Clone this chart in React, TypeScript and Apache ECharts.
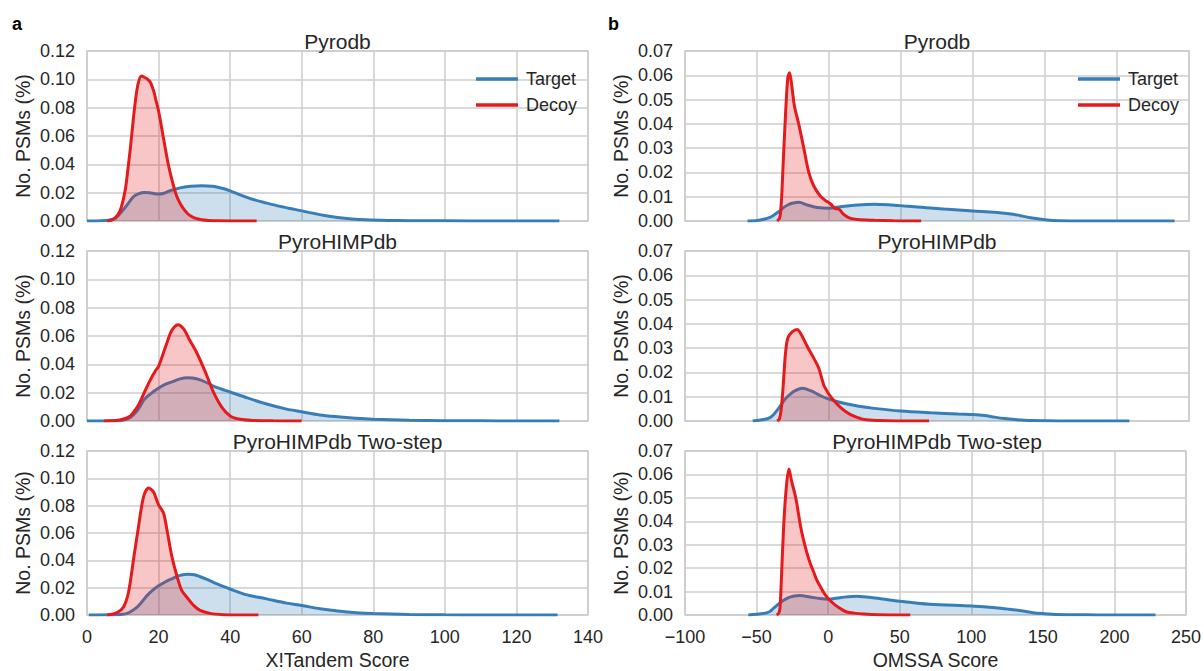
import React, { useEffect, useRef } from "react";
import * as echarts from "echarts";

// ---------- data ----------
const panelTitles = ["Pyrodb", "PyroHIMPdb", "PyroHIMPdb Two-step"];
const legendNames = ["Target", "Decoy"];
const xAxisNames = ["X!Tandem Score", "OMSSA Score"];
const yAxisName = "No. PSMs (%)";
const panelLetters = ["a", "b"];

const xtX = { min: 0, max: 140, step: 20 };
const omX = { min: -100, max: 250, step: 50 };
const xtY = { max: 0.12, step: 0.02 };
const omY = { max: 0.07, step: 0.01 };

// X!Tandem – Pyrodb
const xtPyrodbTarget = [[0,0],[4,0.0002],[6,0.0006],[8,0.002],[10,0.0075],[12,0.014],[13,0.0172],[14.5,0.0193],[16,0.0202],[17.5,0.0199],[19,0.0192],[20,0.019],[21.5,0.0196],[23,0.0212],[26,0.0234],[29,0.0245],[32,0.0249],[35,0.0245],[38,0.0229],[40,0.0213],[43,0.0182],[46,0.0155],[50,0.0128],[54,0.0103],[58,0.0082],[62,0.0061],[66,0.0041],[70,0.0025],[74,0.0014],[78,0.0008],[84,0.0004],[90,0.0002],[100,0.0001],[115,0],[132,0]];
const xtPyrodbDecoy = [[5.6,0],[7,0.0008],[8.5,0.004],[9.5,0.009],[10.7,0.022],[11.5,0.038],[12.1,0.051],[13.3,0.08],[14.2,0.096],[15.2,0.1024],[16,0.1015],[16.8,0.1003],[17.7,0.098],[18.6,0.092],[19.3,0.085],[20,0.0776],[21.4,0.058],[22.8,0.039],[24.2,0.0246],[25,0.018],[26,0.0125],[27,0.0085],[28,0.0055],[29,0.0035],[30.2,0.002],[32,0.0009],[34,0.0004],[37,0.0001],[40,0],[47.4,0]];
// X!Tandem – PyroHIMPdb
const xtHimpTarget = [[0,0],[6,0.0001],[9.3,0.0004],[11,0.0012],[12.1,0.0024],[13,0.0045],[14,0.0072],[15,0.011],[15.8,0.0145],[16.8,0.0172],[17.7,0.019],[19,0.0215],[20.5,0.024],[22.3,0.0263],[24.2,0.028],[26,0.0297],[27.9,0.0306],[29.5,0.0303],[31.6,0.029],[33.5,0.027],[35.3,0.0246],[37.5,0.0226],[40,0.0205],[44.7,0.0164],[50.2,0.012],[55.8,0.0084],[60,0.0065],[65,0.0043],[70,0.003],[75,0.002],[80,0.0013],[90,0.0005],[100,0.0002],[110,0.0001],[120,0],[132,0]];
const xtHimpDecoy = [[4.7,0],[8,0.0003],[10,0.0012],[12.1,0.0036],[13,0.0062],[14,0.0096],[15,0.0145],[15.8,0.019],[17.7,0.029],[19,0.035],[20,0.0385],[21.9,0.052],[23.7,0.064],[25.4,0.068],[27,0.065],[28.8,0.0566],[30.7,0.048],[33,0.035],[35.3,0.0205],[37.7,0.0096],[40,0.0036],[42.8,0.0012],[46.5,0.0004],[52,0.0001],[60,0]];
// X!Tandem – PyroHIMPdb Two-step
const xtTwoTarget = [[0.5,0],[7.4,0.0001],[10,0.0006],[11.2,0.0012],[12.5,0.003],[14,0.0058],[15.3,0.0095],[16.7,0.014],[18.3,0.018],[20,0.0214],[21.7,0.024],[23.3,0.026],[26,0.029],[28.4,0.0299],[30,0.0295],[31.6,0.028],[33.5,0.026],[35.3,0.0239],[37.5,0.0215],[40,0.019],[44.7,0.0147],[50.2,0.0118],[55.8,0.0087],[60,0.007],[65.1,0.0046],[70.7,0.0027],[75.3,0.0017],[80,0.0011],[90,0.0004],[100,0.0001],[110,0],[131.5,0]];
const xtTwoDecoy = [[5.6,0],[8.4,0.0017],[10.2,0.0058],[11.6,0.0166],[13,0.0407],[14.4,0.0648],[15.8,0.0865],[17.2,0.093],[18.6,0.09],[20,0.0805],[21.4,0.0745],[22.5,0.06],[23.7,0.043],[25.1,0.0287],[26.5,0.0178],[27.9,0.013],[29.8,0.007],[31.6,0.0034],[34.4,0.0012],[38.1,0.0002],[42,0],[47.9,0]];

// OMSSA – Pyrodb
const omPyrodbTarget = [[-56.6,0],[-50,0.0002],[-45.3,0.0007],[-41,0.0015],[-38.4,0.0024],[-35,0.0038],[-31.4,0.0056],[-28,0.0068],[-25.6,0.0073],[-20.9,0.0077],[-15.1,0.0066],[-8.1,0.0056],[0,0.0053],[8.1,0.0059],[19.8,0.0066],[31.4,0.0069],[43,0.0066],[52.3,0.0062],[66.3,0.0056],[80,0.0049],[100,0.0041],[115,0.0036],[125,0.003],[133,0.0022],[140,0.0013],[150,0.0005],[160,0.0001],[180,0],[240,0]];
const omPyrodbDecoy = [[-36,0],[-34.5,0.001],[-33.7,0.003],[-32.7,0.012],[-31.9,0.0227],[-30.2,0.0438],[-28.6,0.059],[-27.4,0.061],[-26,0.0564],[-24,0.0473],[-20.9,0.0396],[-17.4,0.0297],[-14,0.0199],[-10.5,0.0143],[-5.8,0.0101],[-2.3,0.0084],[1.2,0.007],[4,0.0052],[7,0.0048],[10,0.0028],[14,0.0013],[19.8,0.0006],[31.4,0.0003],[45,0.0001],[64,0]];
// OMSSA – PyroHIMPdb
const omHimpTarget = [[-53,0],[-45.3,0.0006],[-41,0.0014],[-38.4,0.0027],[-35,0.0052],[-31.4,0.0083],[-28,0.0105],[-24.4,0.0122],[-18.6,0.0135],[-12.8,0.0125],[-5.8,0.0104],[0,0.009],[8.1,0.0076],[19.8,0.0062],[31.4,0.0052],[50,0.0041],[71,0.0034],[89.5,0.0029],[100,0.0027],[108,0.0023],[115,0.0016],[122,0.001],[129,0.0006],[140,0.0002],[160,0],[208.6,0]];
const omHimpDecoy = [[-36,0],[-34.5,0.0008],[-33.7,0.0027],[-32.8,0.007],[-31.9,0.0139],[-30.2,0.028],[-28.6,0.0342],[-25.6,0.0367],[-22.1,0.0377],[-19.3,0.0356],[-15.1,0.0307],[-10.5,0.0258],[-7,0.0216],[-3.5,0.0146],[0,0.011],[3.5,0.0083],[8.1,0.0055],[12.8,0.0034],[17.4,0.002],[24.4,0.0006],[36,0.0002],[50,0],[69.5,0]];
// OMSSA – PyroHIMPdb Two-step
const omTwoTarget = [[-55.8,0],[-45.3,0.0006],[-41,0.0014],[-38.4,0.0027],[-35,0.0045],[-31.4,0.0062],[-28,0.0073],[-24.4,0.008],[-19.8,0.0083],[-12.8,0.0077],[-5.8,0.007],[0,0.0067],[8.1,0.0074],[14,0.0078],[19.8,0.008],[25,0.0078],[31.4,0.0074],[50,0.0059],[71,0.0046],[100,0.0038],[117,0.0031],[126,0.0025],[136,0.0017],[143,0.001],[150,0.0006],[160,0.0002],[176,0.0001],[190,0],[228.7,0]];
const omTwoDecoy = [[-36,0],[-34.5,0.0008],[-33.7,0.0027],[-32.9,0.012],[-32.1,0.0237],[-30.7,0.042],[-29,0.056],[-27.4,0.0623],[-25.5,0.057],[-23.3,0.0518],[-22,0.048],[-19,0.037],[-15.5,0.028],[-12.5,0.022],[-10.5,0.019],[-8,0.015],[-5.5,0.0122],[-3,0.0095],[0,0.007],[5,0.0042],[10,0.0022],[13,0.0013],[18,0.0008],[25,0.0004],[35,0.0001],[57.4,0]];

const xtCurves = [
  [xtPyrodbTarget, xtPyrodbDecoy],
  [xtHimpTarget, xtHimpDecoy],
  [xtTwoTarget, xtTwoDecoy],
];
const omCurves = [
  [omPyrodbTarget, omPyrodbDecoy],
  [omHimpTarget, omHimpDecoy],
  [omTwoTarget, omTwoDecoy],
];

// ---------- style ----------
const FONT = "'Liberation Sans', Arial, sans-serif";
const TEXT = "#262626";
const GRIDC = "#cccccc";
const COLORS = ["#377eb8", "#e41a1c"];
const ROW_TOPS = [51, 251, 451];
const ROW_H = 170;
const COLS = [
  { left: 87, width: 501 },
  { left: 685, width: 504 },
];

export default function App() {
  const ref = useRef<HTMLDivElement>(null);

  useEffect(() => {
    if (!ref.current) return;
    const chart = echarts.init(ref.current, undefined, { renderer: "svg" });

    const grid: any[] = [];
    const xAxis: any[] = [];
    const yAxis: any[] = [];
    const series: any[] = [];
    const title: any[] = [];

    for (let c = 0; c < 2; c++) {
      const xs = c === 0 ? xtX : omX;
      const ys = c === 0 ? xtY : omY;
      const curves = c === 0 ? xtCurves : omCurves;
      for (let r = 0; r < 3; r++) {
        const idx = c * 3 + r;
        const bottom = r === 2;
        grid.push({
          left: COLS[c].left,
          width: COLS[c].width,
          top: ROW_TOPS[r],
          height: ROW_H,
          show: true,
          borderColor: GRIDC,
          borderWidth: 1.5,
          backgroundColor: "#ffffff",
          containLabel: false,
        });
        xAxis.push({
          type: "value",
          gridIndex: idx,
          min: xs.min,
          max: xs.max,
          interval: xs.step,
          axisLine: { show: false },
          axisTick: { show: false },
          splitLine: { show: true, lineStyle: { color: GRIDC, width: 1.5 } },
          axisLabel: {
            show: bottom,
            color: TEXT,
            fontSize: 18,
            fontFamily: FONT,
            margin: 13,
            formatter: (v: number) => (v < 0 ? "\u2212" + Math.abs(v) : String(v)),
          },
          name: bottom ? xAxisNames[c] : "",
          nameLocation: "middle",
          nameGap: 35,
          nameTextStyle: { color: TEXT, fontSize: 19.5, fontFamily: FONT },
        });
        yAxis.push({
          type: "value",
          gridIndex: idx,
          min: 0,
          max: ys.max,
          interval: ys.step,
          axisLine: { show: false },
          axisTick: { show: false },
          splitLine: { show: true, lineStyle: { color: GRIDC, width: 1.5 } },
          axisLabel: {
            color: TEXT,
            fontSize: 18,
            fontFamily: FONT,
            margin: 12,
            formatter: (v: number) => v.toFixed(2),
          },
          name: yAxisName,
          nameLocation: "middle",
          nameRotate: 90,
          nameGap: 54,
          nameTextStyle: { color: TEXT, fontSize: 19.5, fontFamily: FONT },
        });
        title.push({
          text: panelTitles[r],
          left: COLS[c].left + COLS[c].width / 2,
          top: ROW_TOPS[r] - 20,
          textAlign: "center",
          padding: 0,
          textStyle: { color: TEXT, fontSize: 21, fontWeight: "normal", fontFamily: FONT },
        });
        for (let s = 0; s < 2; s++) {
          series.push({
            type: "line",
            name: legendNames[s],
            xAxisIndex: idx,
            yAxisIndex: idx,
            data: curves[r][s],
            smooth: 0.3,
            symbol: "none",
            showSymbol: false,
            color: COLORS[s],
            lineStyle: { color: COLORS[s], width: 3 },
            areaStyle: { color: COLORS[s], opacity: 0.25, origin: "start" },
            z: 2 + s,
          });
        }
      }
    }

    const legend = [471, 1073].map((x) => ({
      left: x,
      top: 64,
      orient: "vertical",
      icon: "rect",
      itemWidth: 42,
      itemHeight: 3.5,
      itemGap: 6,
      data: legendNames,
      textStyle: { color: TEXT, fontSize: 18, fontFamily: FONT, lineHeight: 20, padding: [0, 0, 0, 3] },
    }));

    const graphic = panelLetters.map((t, i) => ({
      type: "text",
      x: i === 0 ? 12 : 608,
      y: 24,
      style: {
        text: t,
        fill: "#000000",
        font: `bold 18px ${FONT}`,
        verticalAlign: "middle",
      },
    }));

    chart.setOption({
      animation: false,
      backgroundColor: "#ffffff",
      title,
      grid,
      xAxis,
      yAxis,
      series,
      legend,
      graphic,
    });

    return () => chart.dispose();
  }, []);

  return (
    <div
      ref={ref}
      style={{ position: "fixed", left: 0, top: 0, width: 1204, height: 671, background: "#fff" }}
    />
  );
}
